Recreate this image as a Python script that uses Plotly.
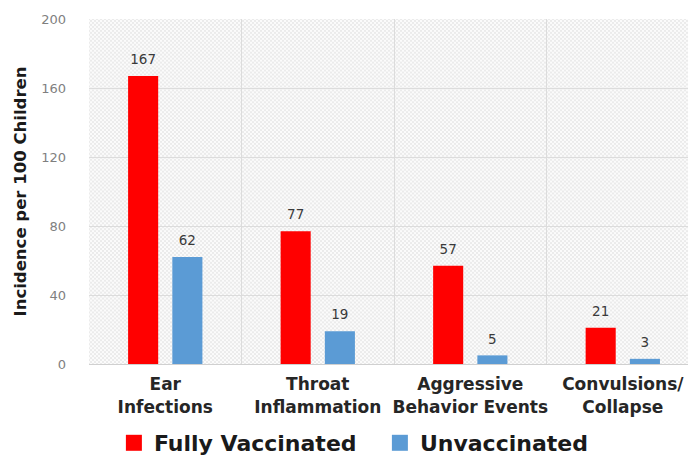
import base64
import plotly.graph_objects as go

categories = ["Ear<br>Infections", "Throat<br>Inflammation", "Aggressive<br>Behavior Events", "Convulsions/<br>Collapse"]
fully_vaccinated = [167, 77, 57, 21]
unvaccinated = [62, 19, 5, 3]
series_names = ["Fully Vaccinated", "Unvaccinated"]
y_ticks = [0, 40, 80, 120, 160, 200]

RED = "#ff0000"
BLUE = "#5b9bd5"
FONT = "DejaVu Sans"
BARGAP = 0.42

svg = ('<svg xmlns="http://www.w3.org/2000/svg" width="607" height="348">'
       '<defs><pattern id="p" width="4" height="4" patternUnits="userSpaceOnUse">'
       '<path d="M0,0L4,4M4,0L0,4" stroke="#e0e0e0" stroke-width="0.6"/></pattern></defs>'
       '<rect width="100%" height="100%" fill="#fbfbfb"/>'
       '<rect width="100%" height="100%" fill="url(#p)"/></svg>')
svg_uri = "data:image/svg+xml;base64," + base64.b64encode(svg.encode()).decode()

fig = go.Figure()
for name, vals, col, grp in [(series_names[0], fully_vaccinated, RED, "a"),
                             (series_names[1], unvaccinated, BLUE, "b")]:
    fig.add_trace(go.Bar(x=categories, y=vals, name=name, marker=dict(color=col, line=dict(width=0)),
                         offsetgroup=grp, showlegend=False, hoverinfo="skip"))
for name, vals, grp in [(series_names[0], fully_vaccinated, "a"),
                        (series_names[1], unvaccinated, "b")]:
    fig.add_trace(go.Scatter(x=categories, y=vals, mode="markers+text", text=[str(v) for v in vals],
                             textposition="top center", offsetgroup=grp,
                             marker=dict(size=12, opacity=0),
                             textfont=dict(family=FONT, size=13.5, color="#3a3a3a"),
                             showlegend=False, hoverinfo="skip", cliponaxis=False))
for name, col in [(series_names[0], RED), (series_names[1], BLUE)]:
    fig.add_trace(go.Scatter(x=[None], y=[None], mode="markers", name=name,
                             marker=dict(symbol="square", size=16, color=col)))

fig.update_layout(
    width=688, height=456,
    margin=dict(l=81, r=0, t=11, b=97),
    paper_bgcolor="white",
    plot_bgcolor="rgba(0,0,0,0)",
    barmode="group", bargap=BARGAP, bargroupgap=0.32,
    scattermode="group", scattergap=BARGAP,
    font=dict(family=FONT),
    images=[dict(source=svg_uri, xref="paper", yref="paper", x=0, y=1, sizex=1, sizey=1,
                 xanchor="left", yanchor="top", sizing="stretch", layer="below")],
    legend=dict(orientation="h", x=0.041, xanchor="left", y=-0.23, yanchor="middle",
                font=dict(family=FONT, size=22, color="#1a1a1a", weight="bold"),
                itemsizing="trace", entrywidth=221, bgcolor="rgba(0,0,0,0)"),
    showlegend=True,
)
fig.update_xaxes(type="category", range=[-0.5, 3.48], tickson="boundaries",
                 showgrid=True, gridcolor="#dcdcdc", gridwidth=1,
                 showline=True, linecolor="#d0d0d0", ticks="", tickangle=0,
                 tickfont=dict(family=FONT, size=17, color="#262626", weight="bold"),
                 ticklabelstandoff=5, automargin=False, fixedrange=True)
fig.update_yaxes(range=[0, 200], tickvals=y_ticks, showgrid=True, gridcolor="#dcdcdc",
                 zeroline=False, showline=False, ticks="",
                 tickfont=dict(family=FONT, size=13, color="#7f7f7f"),
                 ticklabelstandoff=22,
                 title=dict(text="Incidence per 100 Children", standoff=10,
                            font=dict(family=FONT, size=16.5, color="#1a1a1a", weight="bold")),
                 automargin=False, fixedrange=True)
fig.write_html("out.html")
